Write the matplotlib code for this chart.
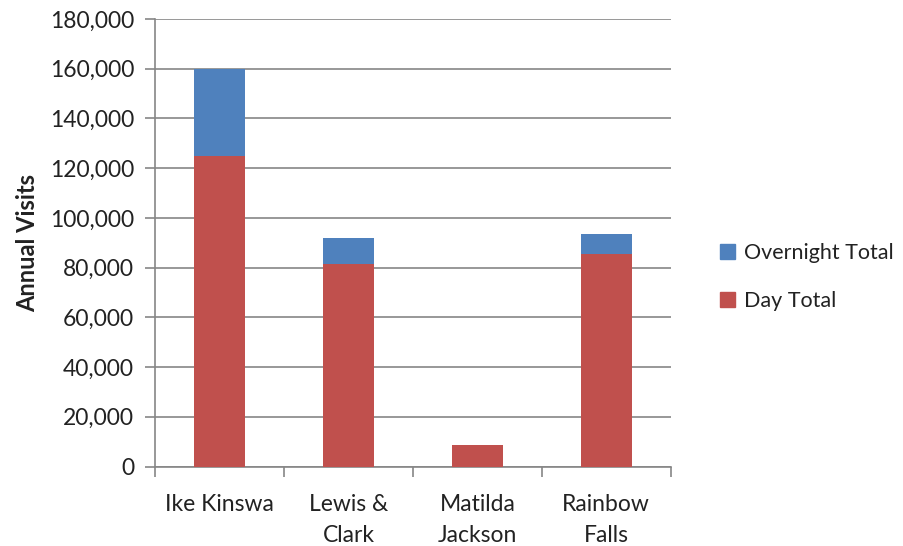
import matplotlib
matplotlib.use('Agg')
from matplotlib import pyplot as plt
from matplotlib.ticker import FuncFormatter
from matplotlib.patches import Patch
import numpy as np

parks = ['Ike Kinswa', 'Lewis &\nClark', 'Matilda\nJackson', 'Rainbow\nFalls']
day_total = [125000, 81600, 8800, 85600]
overnight_total = [35000, 10400, 0, 7800]

plt.rcParams['font.family'] = ['Lato', 'DejaVu Sans']
text_col = '#222222'
grid_col = '#868686'

fig = plt.figure(figsize=(9.04, 5.46), dpi=100)
ax = fig.add_axes([0.1715, 0.1456, 0.5705, 0.8196])

x = np.arange(len(parks))
ax.bar(x, day_total, width=0.4, color='#C0504D', zorder=3)
ax.bar(x, overnight_total, width=0.4, bottom=day_total, color='#4F81BD', zorder=3)

ax.set_xlim(-0.5, len(parks) - 0.5)
ax.set_ylim(0, 180000)
ax.set_yticks(np.arange(0, 180001, 20000))
ax.yaxis.set_major_formatter(FuncFormatter(lambda v, p: '{:,.0f}'.format(v)))
ax.grid(axis='y', color=grid_col, linewidth=1.2, zorder=0)

# category labels on major ticks, boundary marks on minor ticks
ax.set_xticks(x)
ax.set_xticklabels(parks, linespacing=1.55, va='top')
ax.set_xticks(np.arange(-0.5, len(parks), 1.0), minor=True)
ax.tick_params(axis='x', which='major', length=0, pad=20, labelsize=16.5, labelcolor=text_col)
ax.tick_params(axis='x', which='minor', length=7, width=1.2, color=grid_col)
ax.tick_params(axis='y', length=7, width=1.2, color=grid_col, pad=8, labelsize=16.5, labelcolor=text_col)

for side in ['top', 'right']:
    ax.spines[side].set_visible(False)
for side in ['left', 'bottom']:
    ax.spines[side].set_color(grid_col)
    ax.spines[side].set_linewidth(1.2)

ax.set_ylabel('Annual Visits', fontsize=17, fontweight='bold', color=text_col, labelpad=8)

handles = [Patch(color='#4F81BD', label='Overnight Total'),
           Patch(color='#C0504D', label='Day Total')]
fig.legend(handles=handles, loc='center left', bbox_to_anchor=(0.775, 0.493),
           frameon=False, fontsize=15.5, handlelength=0.7, handleheight=0.7,
           handletextpad=0.4, labelspacing=1.3, labelcolor=text_col)

fig.savefig('out.png', dpi=100)
